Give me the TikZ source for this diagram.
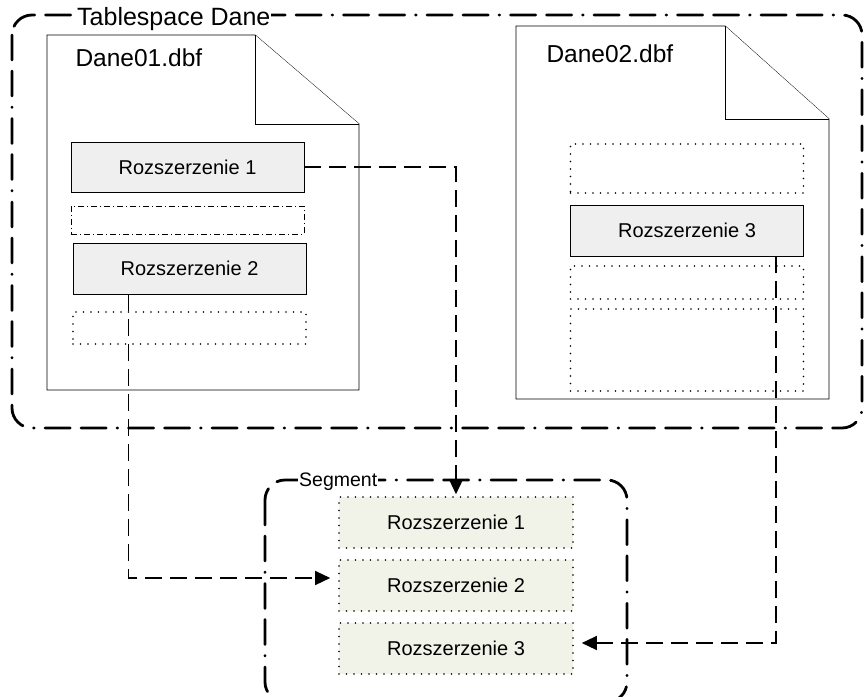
\documentclass[tikz,border=0pt]{standalone}
\usepackage{fontspec}
\setmainfont{Liberation Sans}
\usepackage{tikz}
\usetikzlibrary{arrows.meta,positioning,calc}

\definecolor{extgray}{HTML}{EFEFEF}
\definecolor{extgreen}{HTML}{F1F3E8}

\begin{document}
\begin{tikzpicture}[x=1pt, y=-1pt,
    area/.style={line width=2.8pt, line cap=round, rounded corners=20pt,
        dash pattern=on 25pt off 11pt on 25pt off 11pt on 0.5pt off 11pt},
    doc/.style={draw, line width=0.9pt, fill=white},
    sparse/.style={line cap=round, dash pattern=on 0pt off 7.5pt},
    extent/.style={draw, line width=0.9pt, fill=extgray, minimum width=233pt,
        minimum height=50pt, inner sep=0pt, font=\fontsize{20}{24}\selectfont},
    freeslot/.style={draw, sparse, line width=1.6pt, minimum width=233pt, inner sep=0pt},
    segext/.style={draw, sparse, line width=1.6pt, fill=extgreen, minimum width=234pt,
        minimum height=51pt, inner sep=0pt, font=\fontsize{20}{24}\selectfont},
    link/.style={line width=1.3pt, dash pattern=on 17pt off 8pt,
        -{Triangle[length=15pt, width=14pt]}}]
\useasboundingbox (0,0) rectangle (864,696);

% Tablespace
\draw[area] (12,15) rectangle (862,428);
\node[fill=white, inner sep=1pt, anchor=base west, font=\fontsize{25}{30}\selectfont]
    (ts) at (76,25) {Tablespace Dane};

% Data file 1
\draw[doc] (47,35) -- (255,35) -- (359,124) -- (359,390) -- (47,390) -- cycle;
\draw[doc] (255,35) |- (359,124);
\node[anchor=base west, font=\fontsize{24.5}{29}\selectfont] (f1) at (72,66) {Dane01.dbf};

\node[extent] (r1) at (187.5,167) {Rozszerzenie 1};
\node[draw, line width=0.8pt, dash pattern=on 6pt off 3pt on 1pt off 3pt,
    minimum width=233pt, minimum height=28pt, inner sep=0pt] (free1) at (187.5,220) {};
\node[extent, minimum height=51pt] (r2) at (189.5,268.5) {Rozszerzenie 2};
\node[freeslot, minimum height=32pt] (free2) at (189.5,328) {};

% Data file 2
\draw[doc] (516,26) -- (725,26) -- (829,119) -- (829,399) -- (516,399) -- cycle;
\draw[doc] (725,26) |- (829,119);
\node[anchor=base west, font=\fontsize{24.5}{29}\selectfont] (f2) at (543,62) {Dane02.dbf};

\node[freeslot, minimum height=49pt] (free3) at (687,168.5) {};
\node[extent, minimum height=51pt] (r3) at (687,230.5) {Rozszerzenie 3};
\node[freeslot, minimum height=33pt] (free4) at (687,282.5) {};
\node[freeslot, minimum height=82pt] (free5) at (687,350) {};

% Segment
\draw[area] (265,480) rectangle (627,702);
\node[fill=white, inner sep=1pt, anchor=base west, font=\fontsize{19.5}{24}\selectfont]
    (seg) at (298,486) {Segment};

\node[segext] (s1) at (456,522.5) {Rozszerzenie 1};
\node[segext] (s2) at (456,585.5) {Rozszerzenie 2};
\node[segext] (s3) at (456,648.5) {Rozszerzenie 3};

% Links
\draw[link, shorten >=2pt] (r1.east) -| (s1.north);
\draw[link, shorten >=8pt] ([xshift=56pt]r2.south west) |- ([yshift=7.5pt]s2.west);
\draw[link, shorten >=8pt] ([xshift=-28pt]r3.south east) |- ([yshift=5.5pt]s3.east);
\end{tikzpicture}
\end{document}
